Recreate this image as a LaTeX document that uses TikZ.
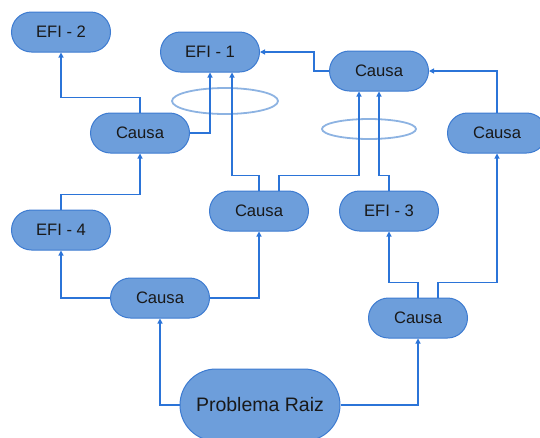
\documentclass[tikz,border=0pt]{standalone}
\usepackage{fontspec}
\setmainfont{Liberation Sans}
\usepackage{tikz}
\usetikzlibrary{arrows.meta}
\definecolor{boxfill}{HTML}{6D9EDB}
\definecolor{boxline}{HTML}{3D7BD1}
\definecolor{wire}{HTML}{2B74D8}
\definecolor{ringcol}{HTML}{8DB3E2}

\begin{document}
\begin{tikzpicture}[x=1pt,y=-1pt,
		pill/.style={draw=boxline,fill=boxfill,line width=1pt,rounded corners=20pt,minimum width=99pt,minimum height=40pt,inner sep=0pt,text=black!90,font=\fontsize{16.6}{19}\selectfont},
		rootpill/.style={pill,rounded corners=36pt,minimum width=160pt,minimum height=72pt,font=\fontsize{19.5}{22}\selectfont},
		wirearrow/.style={-{Triangle[length=5pt,width=5pt]},draw=wire,line width=1.1pt},
		ring/.style={draw=ringcol,line width=1.8pt}]
		\useasboundingbox (0,0) rectangle (540,437);

		\node[pill] (efi2) at (61,32) {EFI - 2};
		\node[pill] (efi1) at (210,52) {EFI - 1};
		\node[pill] (causaA) at (140,133) {Causa};
		\node[pill] (causaTR) at (379,71) {Causa};
		\node[pill] (causaR) at (497,133) {Causa};
		\node[pill] (causaM) at (259,211) {Causa};
		\node[pill] (efi3) at (389,211) {EFI - 3};
		\node[pill] (efi4) at (61,230) {EFI - 4};
		\node[pill] (causaLL) at (160,298) {Causa};
		\node[pill] (causaLR) at (418,318) {Causa};
		\node[rootpill] (raiz) at (260,405) {Problema Raiz};

		\draw[ring] (225,101) ellipse [x radius=53, y radius=13];
		\draw[ring] (369,129) ellipse [x radius=47, y radius=10];

		\draw[wirearrow] (causaA.north) -- ++(0,-15) -| (efi2.south);
		\draw[wirearrow] (causaA.east) -| (efi1.south);
		\draw[wirearrow] (causaM.north) -- ++(0,-15) -| ([xshift=22pt]efi1.south);
		\draw[wirearrow] ([xshift=20pt]causaM.north) -- ++(0,-15) -| ([xshift=-20pt]causaTR.south);
		\draw[wirearrow] (efi3.north) -- ++(0,-15) -| (causaTR.south);
		\draw[wirearrow] (causaTR.west) -- ++(-15,0) |- (efi1.east);
		\draw[wirearrow] (causaR.north) |- (causaTR.east);
		\draw[wirearrow] (causaLL.west) -| (efi4.south);
		\draw[wirearrow] (causaLL.east) -| (causaM.south);
		\draw[wirearrow] (efi4.north) -- ++(0,-15) -| (causaA.south);
		\draw[wirearrow] (raiz.west) -| (causaLL.south);
		\draw[wirearrow] (raiz.east) -| (causaLR.south);
		\draw[wirearrow] (causaLR.north) -- ++(0,-15) -| (efi3.south);
		\draw[wirearrow] ([xshift=20pt]causaLR.north) -- ++(0,-15) -| (causaR.south);
	\end{tikzpicture}
\end{document}
